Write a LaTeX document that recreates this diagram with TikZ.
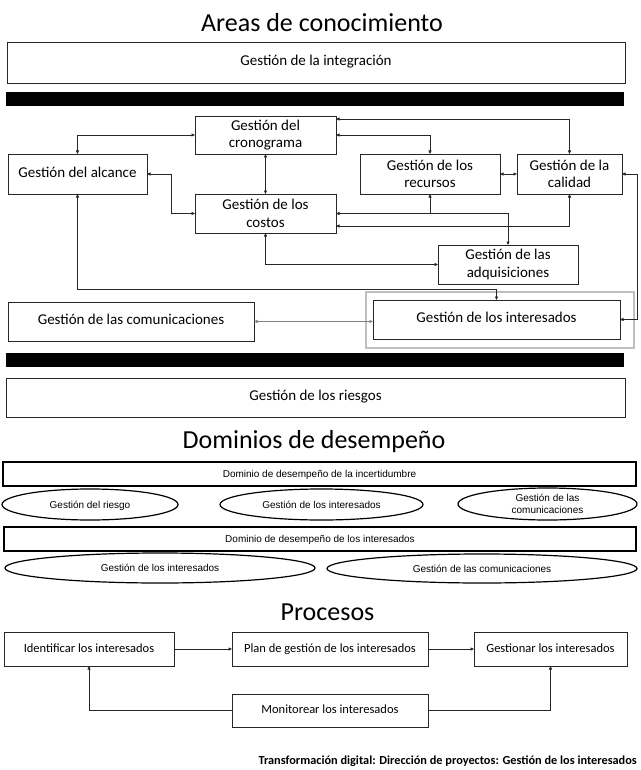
\documentclass[tikz,border=0pt]{standalone}
\usepackage{fontspec}
\setmainfont{Carlito}
\newfontfamily\arialf{Liberation Sans}
\usetikzlibrary{arrows.meta,shapes.geometric}
\begin{document}
\begin{tikzpicture}[x=1pt,y=-1pt,
 kbox/.style={draw=black!85, line width=0.9pt, inner sep=0pt, outer sep=0pt, align=center, font=\fontsize{15}{17.5}\selectfont},
 pbox/.style={kbox, font=\fontsize{12.5}{15}\selectfont},
 oneline/.style={text height=0.64em, text depth=0pt},
 aline/.style={text height=0.72em, text depth=0pt},
 dbox/.style={draw=black, line width=1.2pt, inner sep=0pt, outer sep=0pt, aline, font=\arialf\fontsize{10}{11.5}\selectfont},
 dell/.style={ellipse, draw=black, line width=1.2pt, inner sep=0pt, outer sep=0pt, align=center, font=\arialf\fontsize{10}{11.5}\selectfont},
 ttl/.style={anchor=base, inner sep=0pt, font=\fontsize{26}{30}\selectfont},
 bar/.style={fill=black, draw=none, inner sep=0pt, outer sep=0pt},
 con/.style={draw=black!85, line width=0.6pt},
 gcon/.style={draw=black!50, line width=0.9pt},
 tip/.style={-{Triangle[length=3.5pt,width=3pt]}},
 tips/.style={{Triangle[length=3.5pt,width=3pt]}-{Triangle[length=3.5pt,width=3pt]}},
]
\useasboundingbox[fill=white] (0,0) rectangle (640,770);

% ---------- Areas de conocimiento ----------
\node[ttl] (t1) at (322,32) {Areas de conocimiento};
\node[kbox, oneline, minimum width=618pt, minimum height=41pt] (integ) at (316,62.5) {Gestión de la integración};
\node[bar, minimum width=618pt, minimum height=14pt] (bar1) at (315,99.5) {};

\node[draw=black!25, line width=2.6pt, inner sep=0pt, minimum width=268pt, minimum height=56pt] (frame) at (500,320) {};

\node[kbox, minimum width=141pt, minimum height=38pt] (crono) at (265.5,135) {Gestión del\\cronograma};
\node[kbox, oneline, minimum width=139pt, minimum height=40pt] (alcance) at (77.5,174) {Gestión del alcance};
\node[kbox, minimum width=140pt, minimum height=40pt] (recursos) at (430,174) {Gestión de los\\recursos};
\node[kbox, minimum width=105pt, minimum height=40pt] (calidad) at (569.5,174) {Gestión de la\\calidad};
\node[kbox, minimum width=141pt, minimum height=39pt] (costos) at (265.5,213.5) {Gestión de los\\costos};
\node[kbox, minimum width=140pt, minimum height=39pt] (adq) at (508,264.5) {Gestión de las\\adquisiciones};
\node[kbox, oneline, minimum width=247pt, minimum height=39pt] (inter) at (496.5,319.5) {Gestión de los interesados};
\node[kbox, oneline, minimum width=246pt, minimum height=39pt] (comun) at (131,321.5) {Gestión de las comunicaciones};
\node[bar, minimum width=618pt, minimum height=14pt] (bar2) at (315,360) {};
\node[kbox, oneline, minimum width=619pt, minimum height=39pt] (riesgos) at (315.5,397.5) {Gestión de los riesgos};

% connectors
\draw[con,tips] (alcance.north) |- (crono.west);
\draw[con,tips] (crono.south) -- (costos.north);
\draw[con,tips] (alcance.east) -- ++(24,0) |- (costos.west);
\draw[con,tips] ([yshift=16pt]crono.east) -| (calidad.north);
\draw[con,tips] (crono.east) -| (recursos.north);
\draw[con,tips] (recursos.east) -- (calidad.west);
\draw[con,tips] (costos.east) -| (adq.north);
\draw[con,tip] (recursos.south |- costos.east) -- (recursos.south);
\draw[con,tips] (calidad.south) |- ([yshift=-12.5pt]costos.east);
\draw[con,tips] (costos.south) |- (adq.west);
\draw[con,tips] (alcance.south) |- ([yshift=11pt]inter.north) -- (inter.north);
\draw[con,tips] (calidad.east) -- ++(15,0) |- (inter.east);
\draw[gcon,tips] (comun.east) -- (comun.east -| inter.west);

% ---------- Dominios de desempeño ----------
\node[ttl] (t2) at (314,448) {Dominios de desempeño};
\node[dbox, minimum width=633pt, minimum height=24pt] (dom1) at (319.5,474) {Dominio de desempeño de la incertidumbre};
\node[dell, aline, minimum width=176pt, minimum height=31pt] (e1) at (90,504.5) {Gestión del riesgo};
\node[dell, aline, minimum width=203pt, minimum height=31pt] (e2) at (321.5,504.5) {Gestión de los interesados};
\node[dell, minimum width=179pt, minimum height=32pt] (e3) at (547.5,504) {Gestión de las\\comunicaciones};
\node[dbox, minimum width=632pt, minimum height=24pt] (dom2) at (320,539) {Dominio de desempeño de los interesados};
\node[dell, aline, minimum width=310pt, minimum height=30pt] (e4) at (160,568) {Gestión de los interesados};
\node[dell, aline, minimum width=310pt, minimum height=29pt] (e5) at (482,568.5) {Gestión de las comunicaciones};

% ---------- Procesos ----------
\node[ttl] (t3) at (327.5,620) {Procesos};
\node[pbox, oneline, minimum width=170pt, minimum height=34pt] (ident) at (89,649) {Identificar los interesados};
\node[pbox, oneline, minimum width=196pt, minimum height=34pt] (plan) at (330,649) {Plan de gestión de los interesados};
\node[pbox, oneline, minimum width=153pt, minimum height=34pt] (gest) at (550.5,649) {Gestionar los interesados};
\node[pbox, oneline, minimum width=196pt, minimum height=33pt] (moni) at (330,710.5) {Monitorear los interesados};

\draw[con,tip] (ident.east) -- (plan.west);
\draw[con,tip] (plan.east) -- (gest.west);
\draw[con,tip] (moni.west) -| (ident.south);
\draw[con,tip] (moni.east) -| (gest.south);

\node[anchor=base east, inner sep=0pt, font=\bfseries\fontsize{12.3}{14}\selectfont] (foot) at (637,764) {Transformación digital: Dirección de proyectos: Gestión de los interesados};
\end{tikzpicture}
\end{document}
